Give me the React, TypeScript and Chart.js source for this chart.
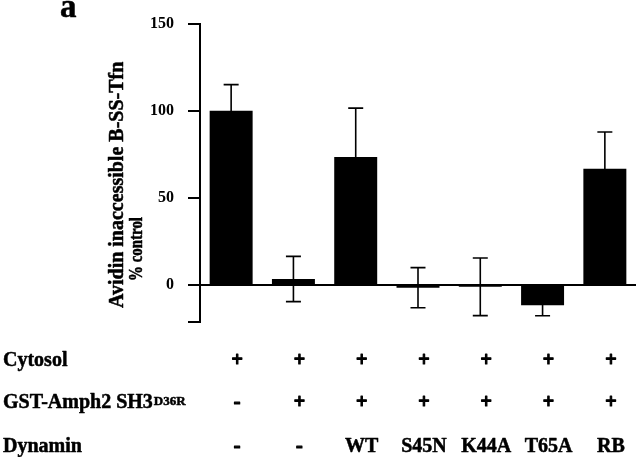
import { useEffect, useRef } from 'react';
import { Chart, registerables } from 'chart.js';

Chart.register(...registerables);

const categories = ['c1', 'c2', 'c3', 'c4', 'c5', 'c6', 'c7'];
const values = [100, 3.5, 73.5, -1.5, -1, -11.6, 66.8];
const errors = [15, 13, 28, 11.5, 16.5, 6, 21];
const cytosolRow = ['+', '+', '+', '+', '+', '+', '+'];
const gstRow = ['-', '+', '+', '+', '+', '+', '+'];
const dynaminRow = ['-', '-', 'WT', 'S45N', 'K44A', 'T65A', 'RB'];
const yTickValues = [0, 50, 100, 150];
const yMin = -21;
const yMax = 150;

const SERIF = '"Liberation Serif", "Times New Roman", serif';

const errorBarPlugin = {
  id: 'errorBars',
  afterDatasetsDraw(chart: any) {
    const ctx = chart.ctx;
    const meta = chart.getDatasetMeta(0);
    const y = chart.scales.y;
    ctx.save();
    ctx.strokeStyle = '#000';
    ctx.lineWidth = 1.6;
    meta.data.forEach((bar: any, i: number) => {
      const v = values[i];
      const e = errors[i];
      const x = bar.x;
      const yTop = y.getPixelForValue(v + e);
      const yBot = y.getPixelForValue(v - e);
      ctx.beginPath();
      ctx.moveTo(x, yTop);
      ctx.lineTo(x, yBot);
      ctx.moveTo(x - 7.5, yTop);
      ctx.lineTo(x + 7.5, yTop);
      ctx.moveTo(x - 7.5, yBot);
      ctx.lineTo(x + 7.5, yBot);
      ctx.stroke();
    });
    ctx.restore();
  },
};

function heavyText(ctx: CanvasRenderingContext2D, t: string, x: number, y: number) {
  ctx.fillText(t, x, y);
  ctx.strokeText(t, x, y);
}

const textPlugin = {
  id: 'textExtras',
  afterDraw(chart: any) {
    const ctx = chart.ctx;
    const xs = chart.scales.x;
    ctx.save();
    ctx.fillStyle = '#000';
    ctx.strokeStyle = '#000';
    ctx.lineWidth = 0.5;
    ctx.lineJoin = 'round';

    // panel letter
    ctx.font = `bold 33px ${SERIF}`;
    ctx.textAlign = 'left';
    ctx.textBaseline = 'alphabetic';
    heavyText(ctx, 'a', 60, 17);

    // y title line 1
    ctx.save();
    ctx.font = `bold 20px ${SERIF}`;
    ctx.translate(123, 308);
    ctx.rotate(-Math.PI / 2);
    ctx.textAlign = 'left';
    heavyText(ctx, 'Avidin inaccessible B-SS-Tfn', 0, 0);
    ctx.restore();

    // y title line 2 (horizontally condensed to the reference length)
    ctx.save();
    ctx.font = `bold 19px ${SERIF}`;
    const line2 = '% control';
    const w2 = ctx.measureText(line2).width;
    ctx.translate(142, 249);
    ctx.rotate(-Math.PI / 2);
    ctx.scale(64 / w2, 1);
    ctx.textAlign = 'center';
    heavyText(ctx, line2, 0, 0);
    ctx.restore();

    // table row headers
    ctx.font = `bold 20px ${SERIF}`;
    ctx.textAlign = 'left';
    heavyText(ctx, 'Cytosol', 3, 366);
    heavyText(ctx, 'GST-Amph2 SH3', 3, 408);
    const w = ctx.measureText('GST-Amph2 SH3').width;
    ctx.font = `bold 13px ${SERIF}`;
    heavyText(ctx, 'D36R', 3 + w + 1, 405);
    ctx.font = `bold 20px ${SERIF}`;
    heavyText(ctx, 'Dynamin', 3, 452);

    // table cells
    ctx.textAlign = 'center';
    const rows: [string[], number][] = [
      [cytosolRow, 366],
      [gstRow, 408],
      [dynaminRow, 452],
    ];
    rows.forEach(([row, by]) => {
      row.forEach((t, i) => {
        const x = xs.getPixelForValue(i) + 6;
        if (t === '+' || t === '-') {
          ctx.save();
          ctx.lineWidth = 1.2;
          heavyText(ctx, t, x, by);
          ctx.restore();
        } else {
          heavyText(ctx, t, x, by);
        }
      });
    });
    ctx.restore();
  },
};

export default function App() {
  const canvasRef = useRef<HTMLCanvasElement | null>(null);

  useEffect(() => {
    if (!canvasRef.current) return;
    const chart = new Chart(canvasRef.current, {
      type: 'bar',
      data: {
        labels: categories,
        datasets: [
          {
            data: values,
            backgroundColor: '#000',
            borderWidth: 0,
            barPercentage: 0.69,
            categoryPercentage: 1,
          },
        ],
      },
      options: {
        responsive: false,
        animation: false,
        layout: { padding: { left: 0, top: 17, right: 4, bottom: 135.3 } },
        plugins: {
          legend: { display: false },
          tooltip: { enabled: false },
          title: { display: false },
        },
        scales: {
          x: { display: false },
          y: {
            min: yMin,
            max: yMax,
            afterFit(scale: any) {
              scale.width = 200;
            },
            afterBuildTicks(scale: any) {
              scale.ticks = [yMin, ...yTickValues].map((v) => ({ value: v }));
            },
            border: { display: true, color: '#000', width: 2 },
            grid: {
              display: true,
              drawOnChartArea: true,
              drawTicks: true,
              tickLength: 12,
              tickColor: '#000',
              tickWidth: 2,
              lineWidth: 2,
              color: (c: any) => (c.tick && c.tick.value === 0 ? '#000' : 'rgba(0,0,0,0)'),
            },
            ticks: {
              padding: 14,
              color: '#000',
              font: { family: SERIF, weight: 'bold', size: 16 },
              callback: (v: any) => (v === yMin ? '' : String(v)),
            },
          },
        },
      },
      plugins: [errorBarPlugin, textPlugin],
    } as any);
    return () => chart.destroy();
  }, []);

  return (
    <div style={{ position: 'fixed', left: 0, top: 0, width: 640, height: 457, background: '#fff' }}>
      <canvas ref={canvasRef} width={640} height={457} style={{ display: 'block' }} />
    </div>
  );
}
